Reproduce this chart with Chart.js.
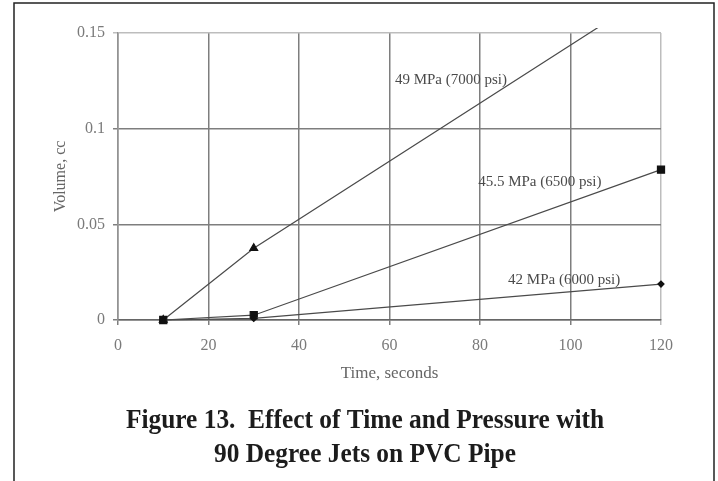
<!DOCTYPE html>
<html>
<head>
<meta charset="utf-8">
<title>Effect of Time and Pressure with 90 Degree Jets on PVC Pipe</title>
<script src="https://cdn.jsdelivr.net/npm/chart.js@4.4.1/dist/chart.umd.min.js"></script>
<style>
  html, body { margin: 0; padding: 0; background: #fff; }
  #wrap { width: 718px; height: 481px; position: relative; }
</style>
</head>
<body>
<div id="wrap"><canvas id="chart" width="718" height="481"></canvas></div>
<script>
// Exposure time (s) and removed volume (cc) for each jet pressure
const timeSeconds = [10, 30, 120];
const volume42MPa = [0, 0.0008, 0.0188];
const volume455MPa = [0, 0.0025, 0.0786];
const volume49MPa = [0, 0.0375, 0.174];
const seriesNames = ['42 MPa (6000 psi)', '45.5 MPa (6500 psi)', '49 MPa (7000 psi)'];

// Axis ticks
const xTickValues = [0, 20, 40, 60, 80, 100, 120];
const yTickValues = [0, 0.05, 0.1, 0.15];
const yTickLabels = ['0', '0.05', '0.1', '0.15'];

const captionLines = ['Figure 13.  Effect of Time and Pressure with', '90 Degree Jets on PVC Pipe'];

// Where each series name sits, in axis units (time, volume)
const seriesLabelAnchors = [[86.2, 0.0209], [79.6, 0.0721], [61.2, 0.1255]];

const SERIF = '"Liberation Serif", "Times New Roman", serif';

const toPoints = vals => vals.map((v, i) => ({ x: timeSeconds[i], y: v }));

const pageFrame = {
  id: 'pageFrame',
  beforeDraw(chart) {
    const ctx = chart.ctx;
    ctx.save();
    ctx.fillStyle = '#ffffff';
    ctx.fillRect(0, 0, chart.width, chart.height);
    ctx.strokeStyle = '#222';
    ctx.lineWidth = 1.5;
    ctx.beginPath();
    ctx.moveTo(14, 481);
    ctx.lineTo(14, 3);
    ctx.lineTo(714, 3);
    ctx.lineTo(714, 481);
    ctx.stroke();
    ctx.restore();
  }
};

const seriesLabels = {
  id: 'seriesLabels',
  afterDatasetsDraw(chart) {
    const { ctx, scales } = chart;
    ctx.save();
    ctx.font = '15px ' + SERIF;
    ctx.fillStyle = '#4a4a4a';
    ctx.textAlign = 'left';
    ctx.textBaseline = 'middle';
    seriesNames.forEach((name, i) => {
      const [ax, ay] = seriesLabelAnchors[i];
      ctx.fillText(name, scales.x.getPixelForValue(ax), scales.y.getPixelForValue(ay));
    });
    ctx.restore();
  }
};

const caption = {
  id: 'caption',
  afterDraw(chart) {
    const ctx = chart.ctx;
    const cx = 365;
    ctx.save();
    ctx.font = 'bold 27px ' + SERIF;
    ctx.fillStyle = '#1c1c1c';
    ctx.textAlign = 'center';
    ctx.textBaseline = 'alphabetic';
    ctx.translate(cx, 0);
    ctx.scale(0.94, 1);
    ctx.fillText(captionLines[0], 0, 428);
    ctx.fillText(captionLines[1], 0, 462);
    ctx.restore();
  }
};

const gridColor = edgeValue => ctx =>
  (ctx.tick && ctx.tick.value === edgeValue) ? '#bdbdbd' : '#7e7e7e';

const markerClip = { left: 6, top: 5, right: 6, bottom: 6 };

new Chart(document.getElementById('chart'), {
  type: 'line',
  data: {
    datasets: [
      {
        label: seriesNames[0],
        data: toPoints(volume42MPa),
        borderColor: '#4a4a4a',
        borderWidth: 1.2,
        pointStyle: 'rectRot',
        pointRadius: 3,
        pointBackgroundColor: '#111',
        pointBorderColor: '#111',
        clip: markerClip
      },
      {
        label: seriesNames[1],
        data: toPoints(volume455MPa),
        borderColor: '#4a4a4a',
        borderWidth: 1.2,
        pointStyle: 'rect',
        pointRadius: 5,
        pointBackgroundColor: '#111',
        pointBorderColor: '#111',
        clip: markerClip
      },
      {
        label: seriesNames[2],
        data: toPoints(volume49MPa),
        borderColor: '#4a4a4a',
        borderWidth: 1.2,
        pointStyle: 'triangle',
        pointRadius: 4.5,
        pointBackgroundColor: '#111',
        pointBorderColor: '#111',
        clip: markerClip
      }
    ]
  },
  options: {
    responsive: false,
    animation: false,
    devicePixelRatio: 1,
    layout: { padding: { left: 47, right: 57, top: 33, bottom: 93 } },
    plugins: {
      legend: { display: false },
      tooltip: { enabled: false },
      title: { display: false }
    },
    elements: { line: { tension: 0 } },
    scales: {
      x: {
        type: 'linear',
        min: 0,
        max: 120,
        afterFit: s => { s.height = 68; },
        afterBuildTicks: s => { s.ticks = xTickValues.map(v => ({ value: v })); },
        ticks: {
          color: '#7a7a7a',
          font: { family: SERIF, size: 16 },
          padding: 11,
          maxRotation: 0,
          callback: v => String(v)
        },
        grid: {
          color: gridColor(120),
          lineWidth: 1.5,
          tickLength: 5,
          drawTicks: true
        },
        border: { display: true, color: '#666', width: 1.5 },
        title: {
          display: true,
          text: 'Time, seconds',
          color: '#666',
          font: { family: SERIF, size: 17 },
          padding: { top: 4, bottom: 4 }
        }
      },
      y: {
        type: 'linear',
        min: 0,
        max: 0.15,
        afterFit: s => { s.width = 71; },
        afterBuildTicks: s => { s.ticks = yTickValues.map(v => ({ value: v })); },
        ticks: {
          color: '#7a7a7a',
          font: { family: SERIF, size: 16 },
          padding: 8,
          callback: (v, i) => yTickLabels[i]
        },
        grid: {
          color: gridColor(0.15),
          lineWidth: 1.5,
          tickLength: 5,
          drawTicks: true
        },
        border: { display: true, color: '#939393', width: 1.5 },
        title: {
          display: true,
          text: 'Volume, cc',
          color: '#666',
          font: { family: SERIF, size: 16 },
          padding: { top: 4, bottom: 4 }
        }
      }
    }
  },
  plugins: [pageFrame, seriesLabels, caption]
});
</script>
</body>
</html>
